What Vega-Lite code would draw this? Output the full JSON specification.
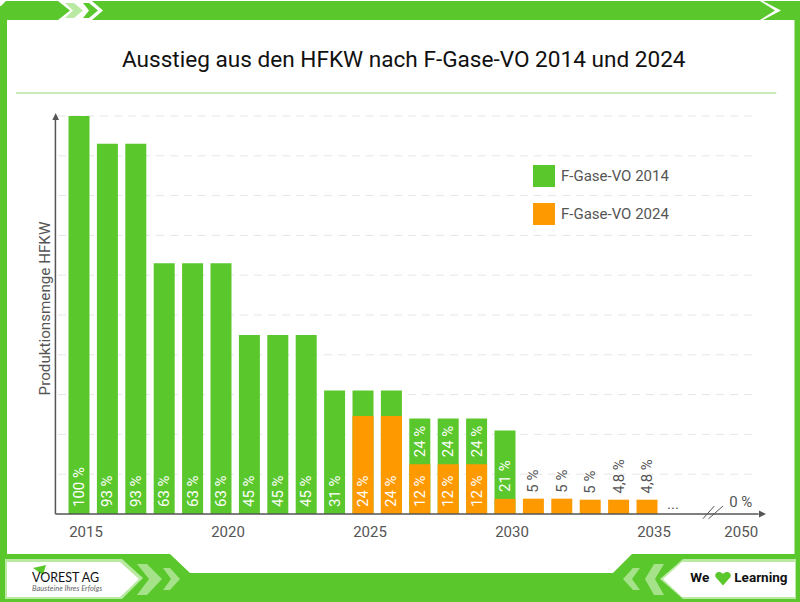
{
"$schema":"https://vega.github.io/schema/vega-lite/v6.json",
"autosize":{"type":"none"},
"padding":{"left":7,"top":20,"right":5.5,"bottom":29},
"width":787.5,"height":553,
"background":"#5AC72C",
"view":{"fill":"white","stroke":null},
"title":{"text":"Ausstieg aus den HFKW nach F-Gase-VO 2014 und 2024","font":"Roboto","fontSize":22.6,"fontWeight":400,"color":"#111111","anchor":"middle","frame":"group","offset":-72,"dx":3},
"datasets":{
"eins":[{}],
"balken":[
{"Jahr":2015,"Verordnung":"F-Gase-VO 2014","Wert":100},
{"Jahr":2016,"Verordnung":"F-Gase-VO 2014","Wert":93},
{"Jahr":2017,"Verordnung":"F-Gase-VO 2014","Wert":93},
{"Jahr":2018,"Verordnung":"F-Gase-VO 2014","Wert":63},
{"Jahr":2019,"Verordnung":"F-Gase-VO 2014","Wert":63},
{"Jahr":2020,"Verordnung":"F-Gase-VO 2014","Wert":63},
{"Jahr":2021,"Verordnung":"F-Gase-VO 2014","Wert":45},
{"Jahr":2022,"Verordnung":"F-Gase-VO 2014","Wert":45},
{"Jahr":2023,"Verordnung":"F-Gase-VO 2014","Wert":45},
{"Jahr":2024,"Verordnung":"F-Gase-VO 2014","Wert":31},
{"Jahr":2025,"Verordnung":"F-Gase-VO 2014","Wert":31},
{"Jahr":2026,"Verordnung":"F-Gase-VO 2014","Wert":31},
{"Jahr":2027,"Verordnung":"F-Gase-VO 2014","Wert":24},
{"Jahr":2028,"Verordnung":"F-Gase-VO 2014","Wert":24},
{"Jahr":2029,"Verordnung":"F-Gase-VO 2014","Wert":24},
{"Jahr":2030,"Verordnung":"F-Gase-VO 2014","Wert":21},
{"Jahr":2025,"Verordnung":"F-Gase-VO 2024","Wert":24.6},
{"Jahr":2026,"Verordnung":"F-Gase-VO 2024","Wert":24.6},
{"Jahr":2027,"Verordnung":"F-Gase-VO 2024","Wert":12.5},
{"Jahr":2028,"Verordnung":"F-Gase-VO 2024","Wert":12.5},
{"Jahr":2029,"Verordnung":"F-Gase-VO 2024","Wert":12.5},
{"Jahr":2030,"Verordnung":"F-Gase-VO 2024","Wert":3.8},
{"Jahr":2031,"Verordnung":"F-Gase-VO 2024","Wert":3.85},
{"Jahr":2032,"Verordnung":"F-Gase-VO 2024","Wert":3.85},
{"Jahr":2033,"Verordnung":"F-Gase-VO 2024","Wert":3.6},
{"Jahr":2034,"Verordnung":"F-Gase-VO 2024","Wert":3.6},
{"Jahr":2035,"Verordnung":"F-Gase-VO 2024","Wert":3.6}
],
"beschriftung":[
{"Jahr":2015,"Text":"100 %","Basis":0,"Lage":"innen"},
{"Jahr":2016,"Text":"93 %","Basis":0,"Lage":"innen"},
{"Jahr":2017,"Text":"93 %","Basis":0,"Lage":"innen"},
{"Jahr":2018,"Text":"63 %","Basis":0,"Lage":"innen"},
{"Jahr":2019,"Text":"63 %","Basis":0,"Lage":"innen"},
{"Jahr":2020,"Text":"63 %","Basis":0,"Lage":"innen"},
{"Jahr":2021,"Text":"45 %","Basis":0,"Lage":"innen"},
{"Jahr":2022,"Text":"45 %","Basis":0,"Lage":"innen"},
{"Jahr":2023,"Text":"45 %","Basis":0,"Lage":"innen"},
{"Jahr":2024,"Text":"31 %","Basis":0,"Lage":"innen"},
{"Jahr":2025,"Text":"24 %","Basis":0,"Lage":"innen"},
{"Jahr":2026,"Text":"24 %","Basis":0,"Lage":"innen"},
{"Jahr":2027,"Text":"12 %","Basis":0,"Lage":"innen"},
{"Jahr":2028,"Text":"12 %","Basis":0,"Lage":"innen"},
{"Jahr":2029,"Text":"12 %","Basis":0,"Lage":"innen"},
{"Jahr":2027,"Text":"24 %","Basis":12.5,"Lage":"innen"},
{"Jahr":2028,"Text":"24 %","Basis":12.5,"Lage":"innen"},
{"Jahr":2029,"Text":"24 %","Basis":12.5,"Lage":"innen"},
{"Jahr":2030,"Text":"21 %","Basis":3.8,"Lage":"innen"},
{"Jahr":2031,"Text":"5 %","Basis":3.85,"Lage":"aussen"},
{"Jahr":2032,"Text":"5 %","Basis":3.85,"Lage":"aussen"},
{"Jahr":2033,"Text":"5 %","Basis":3.6,"Lage":"aussen"},
{"Jahr":2034,"Text":"4,8 %","Basis":3.6,"Lage":"aussen"},
{"Jahr":2035,"Text":"4,8 %","Basis":3.6,"Lage":"aussen"},
{"Jahr":2050,"Text":"0 %","Basis":0,"Lage":"waagerecht"}
],
"raster":[{"Anteil":10},{"Anteil":20},{"Anteil":30},{"Anteil":40},{"Anteil":50},{"Anteil":60},{"Anteil":70},{"Anteil":80},{"Anteil":90},{"Anteil":100}]
},
"layer":[
{"data":{"name":"eins"},"mark":{"type":"point","filled":true,"opacity":1,"size":4,"color":"#5AC72C","shape":"M0,554 L170,554 L190,573 L190,578 L0,578Z M613,573 L632,554 L800,554 L800,578 L613,578Z"},
 "encoding":{"x":{"datum":2012.2183},"y":{"datum":129.146}}},
{"data":{"name":"eins"},"mark":{"type":"point","filled":true,"opacity":1,"size":4,"color":"#FFFFFF","shape":"M0,0 L800,0 L800,1 L0,1Z M0,0 L6,1 L1,6 L0,6Z M58,1 L92,1 L103,10.5 L92,20 L58,20 L70,10.5Z M760,1 L763,1 L781,10.5 L763,20 L760,20 L775,10.5Z"},
 "encoding":{"x":{"datum":2012.2183},"y":{"datum":129.146}}},
{"data":{"name":"eins"},"mark":{"type":"point","filled":true,"opacity":1,"size":4,"color":"#5AC72C","shape":"M83,3 L89,3 L98,10.5 L89,18 L83,18 L89,10.5Z"},
 "encoding":{"x":{"datum":2012.2183},"y":{"datum":129.146}}},
{"data":{"name":"eins"},"mark":{"type":"point","filled":true,"opacity":1,"size":4,"color":"#B9E9A2","shape":"M65,3 L74,3 L83,10.5 L74,18 L65,18 L73,10.5Z M5,559 L122,559 L143,578 L122,599 L5,599Z M683,559 L796,559 L796,599 L683,599 L660,579Z"},
 "encoding":{"x":{"datum":2012.2183},"y":{"datum":129.146}}},
{"data":{"name":"eins"},"mark":{"type":"point","filled":true,"opacity":1,"size":4,"color":"#A5E289","shape":"M137,564 L147,564 L162,579 L147,595 L137,595 L149,579Z M163,568 L170,568 L180,579 L170,590 L163,590 L171,579Z M664,564 L654,564 L645,579 L654,595 L664,595 L655,579Z M640,568 L633,568 L623,579 L633,590 L640,590 L632,579Z"},
 "encoding":{"x":{"datum":2012.2183},"y":{"datum":129.146}}},
{"data":{"name":"eins"},"mark":{"type":"point","filled":true,"opacity":1,"size":4,"color":"#FFFFFF","shape":"M7,562 L120,562 L139,579 L120,597 L7,597Z M682,562 L795,562 L795,597 L682,597 L663,579Z"},
 "encoding":{"x":{"datum":2012.2183},"y":{"datum":129.146}}},
{"data":{"name":"eins"},"mark":{"type":"point","filled":true,"opacity":1,"size":4,"color":"#5AC72C","shape":"M33,568 L46,565 L43,575Z M723,585.5 L715.5,577 C714,573 719,570 723,574 C727,570 732,573 730.5,577Z"},
 "encoding":{"x":{"datum":2012.2183},"y":{"datum":129.146}}},
{"data":{"name":"eins"},"mark":{"type":"text","text":"VOREST AG","font":"Lato","fontSize":12.5,"align":"left","baseline":"middle","color":"#111111"},
 "encoding":{"x":{"datum":2013.345},"y":{"datum":-16.08}}},
{"data":{"name":"eins"},"mark":{"type":"text","text":"Bausteine Ihres Erfolgs","font":"Lato","fontStyle":"italic","fontSize":7.5,"align":"left","baseline":"middle","color":"#666666"},
 "encoding":{"x":{"datum":2013.345},"y":{"datum":-18.84}}},
{"data":{"name":"eins"},"mark":{"type":"text","text":"We","font":"Roboto","fontWeight":"bold","fontSize":13.5,"align":"left","baseline":"middle","color":"#111111"},
 "encoding":{"x":{"datum":2042.45},"y":{"datum":-16.2}}},
{"data":{"name":"eins"},"mark":{"type":"text","text":"Learning","font":"Roboto","fontWeight":"bold","fontSize":13.5,"align":"left","baseline":"middle","color":"#111111"},
 "encoding":{"x":{"datum":2050.02},"y":{"datum":-16.2}}},
{"data":{"name":"eins"},"mark":{"type":"rule","color":"#8FDB6E","strokeWidth":1},
 "encoding":{"x":{"datum":2012.782},"x2":{"datum":2057.24},"y":{"datum":105.78}}},
{"data":{"name":"raster"},"mark":{"type":"rule","color":"#E6E6E6","strokeWidth":1,"strokeDash":[8,6]},
 "encoding":{"y":{"field":"Anteil","type":"quantitative"},"x":{"datum":2014.26},"x2":{"datum":2053.63}}},
{"data":{"name":"balken"},"mark":{"type":"bar","width":21},
 "encoding":{
  "x":{"field":"Jahr","type":"quantitative","title":null,"scale":{"type":"linear","domain":[2015,2035,2050],"range":[72,640,727.2],"nice":false,"zero":false,"padding":0},
   "axis":{"values":[2015,2020,2025,2030,2035,2050],"format":"d","offset":-59,"domain":false,"ticks":false,"grid":false,"labelFont":"Roboto","labelFontSize":15,"labelColor":"#555555","labelPadding":10,"labelOffset":6.5,"labelFlush":false,"labelOverlap":false}},
  "y":{"field":"Wert","type":"quantitative","stack":null,"title":"Produktionsmenge HFKW","scale":{"domain":[0,100],"range":[494,96],"nice":false,"zero":false},
   "axis":{"labels":false,"ticks":false,"domain":false,"grid":false,"titleFont":"Roboto","titleFontSize":15.2,"titleFontWeight":400,"titleColor":"#555555","titleX":37,"titleY":288,"titleAngle":270,"titleAlign":"center","titleBaseline":"middle"}},
  "color":{"field":"Verordnung","type":"nominal","scale":{"domain":["F-Gase-VO 2014","F-Gase-VO 2024"],"range":["#5AC72C","#FF9900"]},
   "legend":{"title":null,"orient":"none","legendX":526,"legendY":145,"symbolType":"square","symbolSize":484,"symbolStrokeWidth":0,"labelFont":"Roboto","labelFontSize":15,"labelColor":"#555555","rowPadding":16,"labelOffset":6,"padding":0}}
 }},
{"data":{"name":"beschriftung"},"transform":[{"filter":"datum.Lage === 'innen'"}],"mark":{"type":"text","angle":270,"align":"left","baseline":"middle","dx":7,"font":"Roboto","fontSize":15,"color":"#FFFFFF"},
 "encoding":{"x":{"field":"Jahr","type":"quantitative"},"y":{"field":"Basis","type":"quantitative"},"text":{"field":"Text"}}},
{"data":{"name":"beschriftung"},"transform":[{"filter":"datum.Lage === 'aussen'"}],"mark":{"type":"text","angle":270,"align":"left","baseline":"middle","dx":6,"font":"Roboto","fontSize":15,"color":"#555555"},
 "encoding":{"x":{"field":"Jahr","type":"quantitative"},"y":{"field":"Basis","type":"quantitative"},"text":{"field":"Text"}}},
{"data":{"name":"beschriftung"},"transform":[{"filter":"datum.Lage === 'waagerecht'"}],"mark":{"type":"text","align":"center","baseline":"middle","dx":6.5,"dy":-12,"font":"Roboto","fontSize":15,"color":"#555555"},
 "encoding":{"x":{"field":"Jahr","type":"quantitative"},"y":{"field":"Basis","type":"quantitative"},"text":{"field":"Text"}}},
{"data":{"name":"eins"},"mark":{"type":"rule","color":"#555555","strokeWidth":1.5},
 "encoding":{"x":{"datum":2014.17},"y":{"datum":0},"y2":{"datum":99.5}}},
{"data":{"name":"eins"},"mark":{"type":"rule","color":"#555555","strokeWidth":1.5},
 "encoding":{"x":{"datum":2014.17},"x2":{"datum":2054.2},"y":{"datum":0}}},
{"data":{"name":"eins"},"mark":{"type":"rule","color":"#555555","strokeWidth":1},
 "encoding":{"x":{"datum":2044.63},"x2":{"datum":2046.57},"y":{"datum":-1.18},"y2":{"datum":2}}},
{"data":{"name":"eins"},"mark":{"type":"rule","color":"#555555","strokeWidth":1},
 "encoding":{"x":{"datum":2045.6},"x2":{"datum":2048.07},"y":{"datum":-1.18},"y2":{"datum":2}}},
{"data":{"name":"eins"},"mark":{"type":"text","text":"...","font":"Roboto","fontSize":15,"align":"center","baseline":"alphabetic","color":"#555555"},
 "encoding":{"x":{"datum":2039.47},"y":{"datum":1.2}}},
{"data":{"name":"eins"},"mark":{"type":"point","filled":true,"opacity":1,"size":4,"color":"#555555","shape":"M55.7,113 L59,120 L52.4,120Z M766,514 L759,510.5 L759,517.5Z"},
 "encoding":{"x":{"datum":2012.2183},"y":{"datum":129.146}}}
]
}
